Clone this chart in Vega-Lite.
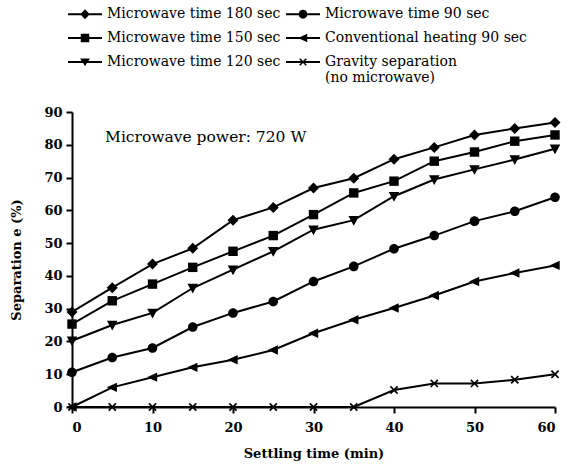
{
  "$schema": "https://vega.github.io/schema/vega-lite/v6.json",
  "width": 483,
  "height": 295,
  "autosize": {"type": "none"},
  "padding": {"left": 72, "top": 112, "right": 30, "bottom": 58},
  "background": "white",
  "config": {
    "view": {"stroke": null},
    "font": "DejaVu Serif",
    "axis": {
      "grid": false,
      "domainColor": "black",
      "domainWidth": 2,
      "tickColor": "black",
      "tickWidth": 2,
      "tickSize": 6,
      "labelColor": "black",
      "labelFont": "DejaVu Serif",
      "labelFontWeight": "bold",
      "labelFontSize": 13,
      "titleColor": "black",
      "titleFont": "DejaVu Serif",
      "titleFontWeight": "bold",
      "titleFontSize": 13
    }
  },
  "datasets": {
    "series": [
      {"series": "Microwave time 180 sec", "t": 0, "v": 29},
      {"series": "Microwave time 180 sec", "t": 5, "v": 36.4},
      {"series": "Microwave time 180 sec", "t": 10, "v": 43.6},
      {"series": "Microwave time 180 sec", "t": 15, "v": 48.4},
      {"series": "Microwave time 180 sec", "t": 20, "v": 57},
      {"series": "Microwave time 180 sec", "t": 25, "v": 60.9},
      {"series": "Microwave time 180 sec", "t": 30, "v": 66.8},
      {"series": "Microwave time 180 sec", "t": 35, "v": 69.8},
      {"series": "Microwave time 180 sec", "t": 40, "v": 75.6},
      {"series": "Microwave time 180 sec", "t": 45, "v": 79.2},
      {"series": "Microwave time 180 sec", "t": 50, "v": 83},
      {"series": "Microwave time 180 sec", "t": 55, "v": 85},
      {"series": "Microwave time 180 sec", "t": 60, "v": 86.8},
      {"series": "Microwave time 150 sec", "t": 0, "v": 25.3},
      {"series": "Microwave time 150 sec", "t": 5, "v": 32.4},
      {"series": "Microwave time 150 sec", "t": 10, "v": 37.5},
      {"series": "Microwave time 150 sec", "t": 15, "v": 42.6},
      {"series": "Microwave time 150 sec", "t": 20, "v": 47.5},
      {"series": "Microwave time 150 sec", "t": 25, "v": 52.3},
      {"series": "Microwave time 150 sec", "t": 30, "v": 58.7},
      {"series": "Microwave time 150 sec", "t": 35, "v": 65.3},
      {"series": "Microwave time 150 sec", "t": 40, "v": 68.9},
      {"series": "Microwave time 150 sec", "t": 45, "v": 75},
      {"series": "Microwave time 150 sec", "t": 50, "v": 77.8},
      {"series": "Microwave time 150 sec", "t": 55, "v": 81.1},
      {"series": "Microwave time 150 sec", "t": 60, "v": 83},
      {"series": "Microwave time 120 sec", "t": 0, "v": 20.2},
      {"series": "Microwave time 120 sec", "t": 5, "v": 25},
      {"series": "Microwave time 120 sec", "t": 10, "v": 28.7},
      {"series": "Microwave time 120 sec", "t": 15, "v": 36.3},
      {"series": "Microwave time 120 sec", "t": 20, "v": 41.9},
      {"series": "Microwave time 120 sec", "t": 25, "v": 47.5},
      {"series": "Microwave time 120 sec", "t": 30, "v": 54.1},
      {"series": "Microwave time 120 sec", "t": 35, "v": 57},
      {"series": "Microwave time 120 sec", "t": 40, "v": 64.3},
      {"series": "Microwave time 120 sec", "t": 45, "v": 69.4},
      {"series": "Microwave time 120 sec", "t": 50, "v": 72.5},
      {"series": "Microwave time 120 sec", "t": 55, "v": 75.5},
      {"series": "Microwave time 120 sec", "t": 60, "v": 78.8},
      {"series": "Microwave time 90 sec", "t": 0, "v": 10.6},
      {"series": "Microwave time 90 sec", "t": 5, "v": 15.1},
      {"series": "Microwave time 90 sec", "t": 10, "v": 18},
      {"series": "Microwave time 90 sec", "t": 15, "v": 24.4},
      {"series": "Microwave time 90 sec", "t": 20, "v": 28.7},
      {"series": "Microwave time 90 sec", "t": 25, "v": 32.2},
      {"series": "Microwave time 90 sec", "t": 30, "v": 38.3},
      {"series": "Microwave time 90 sec", "t": 35, "v": 42.9},
      {"series": "Microwave time 90 sec", "t": 40, "v": 48.3},
      {"series": "Microwave time 90 sec", "t": 45, "v": 52.3},
      {"series": "Microwave time 90 sec", "t": 50, "v": 56.7},
      {"series": "Microwave time 90 sec", "t": 55, "v": 59.7},
      {"series": "Microwave time 90 sec", "t": 60, "v": 64},
      {"series": "Conventional heating 90 sec", "t": 0, "v": 0},
      {"series": "Conventional heating 90 sec", "t": 5, "v": 6},
      {"series": "Conventional heating 90 sec", "t": 10, "v": 9.1},
      {"series": "Conventional heating 90 sec", "t": 15, "v": 12.1},
      {"series": "Conventional heating 90 sec", "t": 20, "v": 14.4},
      {"series": "Conventional heating 90 sec", "t": 25, "v": 17.4},
      {"series": "Conventional heating 90 sec", "t": 30, "v": 22.5},
      {"series": "Conventional heating 90 sec", "t": 35, "v": 26.6},
      {"series": "Conventional heating 90 sec", "t": 40, "v": 30.2},
      {"series": "Conventional heating 90 sec", "t": 45, "v": 34},
      {"series": "Conventional heating 90 sec", "t": 50, "v": 38.3},
      {"series": "Conventional heating 90 sec", "t": 55, "v": 40.9},
      {"series": "Conventional heating 90 sec", "t": 60, "v": 43.2},
      {"series": "Gravity separation (no microwave)", "t": 0, "v": 0},
      {"series": "Gravity separation (no microwave)", "t": 5, "v": 0},
      {"series": "Gravity separation (no microwave)", "t": 10, "v": 0},
      {"series": "Gravity separation (no microwave)", "t": 15, "v": 0},
      {"series": "Gravity separation (no microwave)", "t": 20, "v": 0},
      {"series": "Gravity separation (no microwave)", "t": 25, "v": 0},
      {"series": "Gravity separation (no microwave)", "t": 30, "v": 0},
      {"series": "Gravity separation (no microwave)", "t": 35, "v": 0},
      {"series": "Gravity separation (no microwave)", "t": 40, "v": 5.2},
      {"series": "Gravity separation (no microwave)", "t": 45, "v": 7.2},
      {"series": "Gravity separation (no microwave)", "t": 50, "v": 7.2},
      {"series": "Gravity separation (no microwave)", "t": 55, "v": 8.3},
      {"series": "Gravity separation (no microwave)", "t": 60, "v": 10}
    ]
  },
  "encoding": {
    "x": {"field": "t", "type": "quantitative", "scale": {"domain": [0, 60], "nice": false, "zero": false},
          "axis": {"values": [0, 10, 20, 30, 40, 50, 60], "title": "Settling time (min)", "labelPadding": 8, "titlePadding": 13}},
    "y": {"field": "v", "type": "quantitative", "scale": {"domain": [0, 90], "nice": false},
          "axis": {"values": [0, 10, 20, 30, 40, 50, 60, 70, 80, 90], "title": "Separation e (%)", "labelPadding": 4, "titlePadding": 20, "labelOverlap": false}}
  },
  "resolve": {"scale": {"shape": "independent"}, "legend": {"shape": "independent"}},
  "layer": [
    {
      "data": {"name": "series"},
      "mark": {"type": "line", "color": "black", "strokeWidth": 2},
      "encoding": {
        "detail": {"field": "series"}
      }
    },
    {
      "data": {"name": "series"},
      "mark": {"type": "point", "filled": true, "color": "black", "opacity": 1, "size": 400},
      "encoding": {
        "shape": {
          "field": "series",
          "type": "nominal",
          "scale": {
            "domain": ["Microwave time 180 sec", "Microwave time 150 sec", "Microwave time 120 sec", "Microwave time 90 sec", "Conventional heating 90 sec", "Gravity separation (no microwave)"],
            "range": [
              "M0,-0.55L0.55,0L0,0.55L-0.55,0Z",
              "M-0.47,-0.47H0.47V0.47H-0.47Z",
              "M-0.53,-0.42H0.53L0,0.55Z",
              "M0.48,0A0.48,0.48,0,1,1,-0.48,0A0.48,0.48,0,1,1,0.48,0Z",
              "M-0.55,0L0.47,-0.47V0.47Z",
              "M-0.42,-0.3L-0.3,-0.42L0,-0.12L0.3,-0.42L0.42,-0.3L0.12,0L0.42,0.3L0.3,0.42L0,0.12L-0.3,0.42L-0.42,0.3L-0.12,0Z"
            ]
          },
          "legend": null
        }
      }
    },
    {
      "data": {"values": []},
      "mark": {"type": "point", "filled": true, "color": "black", "opacity": 1},
      "encoding": {
        "shape": {
          "field": "series",
          "type": "nominal",
          "scale": {
            "domain": ["Microwave time 180 sec", "Microwave time 150 sec", "Microwave time 120 sec", "Microwave time 90 sec", "Conventional heating 90 sec", "Gravity separation (no microwave)"],
            "range": [
              "M-2,-0.12H-0.45L0,-0.58L0.45,-0.12H2V0.12H0.45L0,0.58L-0.45,0.12H-2Z",
              "M-2,-0.12H-0.5V-0.5H0.5V-0.12H2V0.12H0.5V0.5H-0.5V0.12H-2Z",
              "M-2,-0.12H-0.4L-0.58,-0.42H0.58L0.4,-0.12H2V0.12H0.22L0,0.5L-0.22,0.12H-2Z",
              "M-2,-0.12H2V0.12H-2Z M0.52,0A0.52,0.52,0,1,1,-0.52,0A0.52,0.52,0,1,1,0.52,0Z",
              "M-2,-0.12H2V0.12H-2Z M-0.58,0L0.5,-0.5V0.5Z",
              "M-2,-0.12H2V0.12H-2Z M-0.45,-0.32L-0.32,-0.45L0,-0.13L0.32,-0.45L0.45,-0.32L0.13,0L0.45,0.32L0.32,0.45L0,0.13L-0.32,0.45L-0.45,0.32L-0.13,0Z"
            ]
          },
          "legend": {
            "orient": "none",
            "legendX": 4.5,
            "legendY": -106.5,
            "title": null,
            "columns": 2,
            "columnPadding": 5,
            "rowPadding": 8,
            "padding": 0,
            "symbolSize": 289,
            "symbolFillColor": "black",
            "symbolStrokeWidth": 0,
            "symbolOpacity": 1,
            "labelOffset": 13.5,
            "labelFont": "DejaVu Serif",
            "labelFontSize": 14,
            "labelColor": "black",
            "labelLimit": 300,
            "labelExpr": "datum.label === 'Gravity separation (no microwave)' ? ['Gravity separation', '(no microwave)'] : datum.label",
            "encode": {
              "labels": {
                "dy": {"value": {"expr": "datum.value === 'Gravity separation (no microwave)' ? 10 : 0"}},
                "lineHeight": {"value": 20}
              }
            }
          }
        }
      }
    },
    {
      "data": {"values": [{"t": 4.1, "v": 82.5, "note": "Microwave power: 720 W"}]},
      "mark": {"type": "text", "align": "left", "baseline": "middle", "font": "DejaVu Serif", "fontSize": 15.5, "fill": "black"},
      "encoding": {
        "text": {"field": "note", "type": "nominal"}
      }
    }
  ]
}
